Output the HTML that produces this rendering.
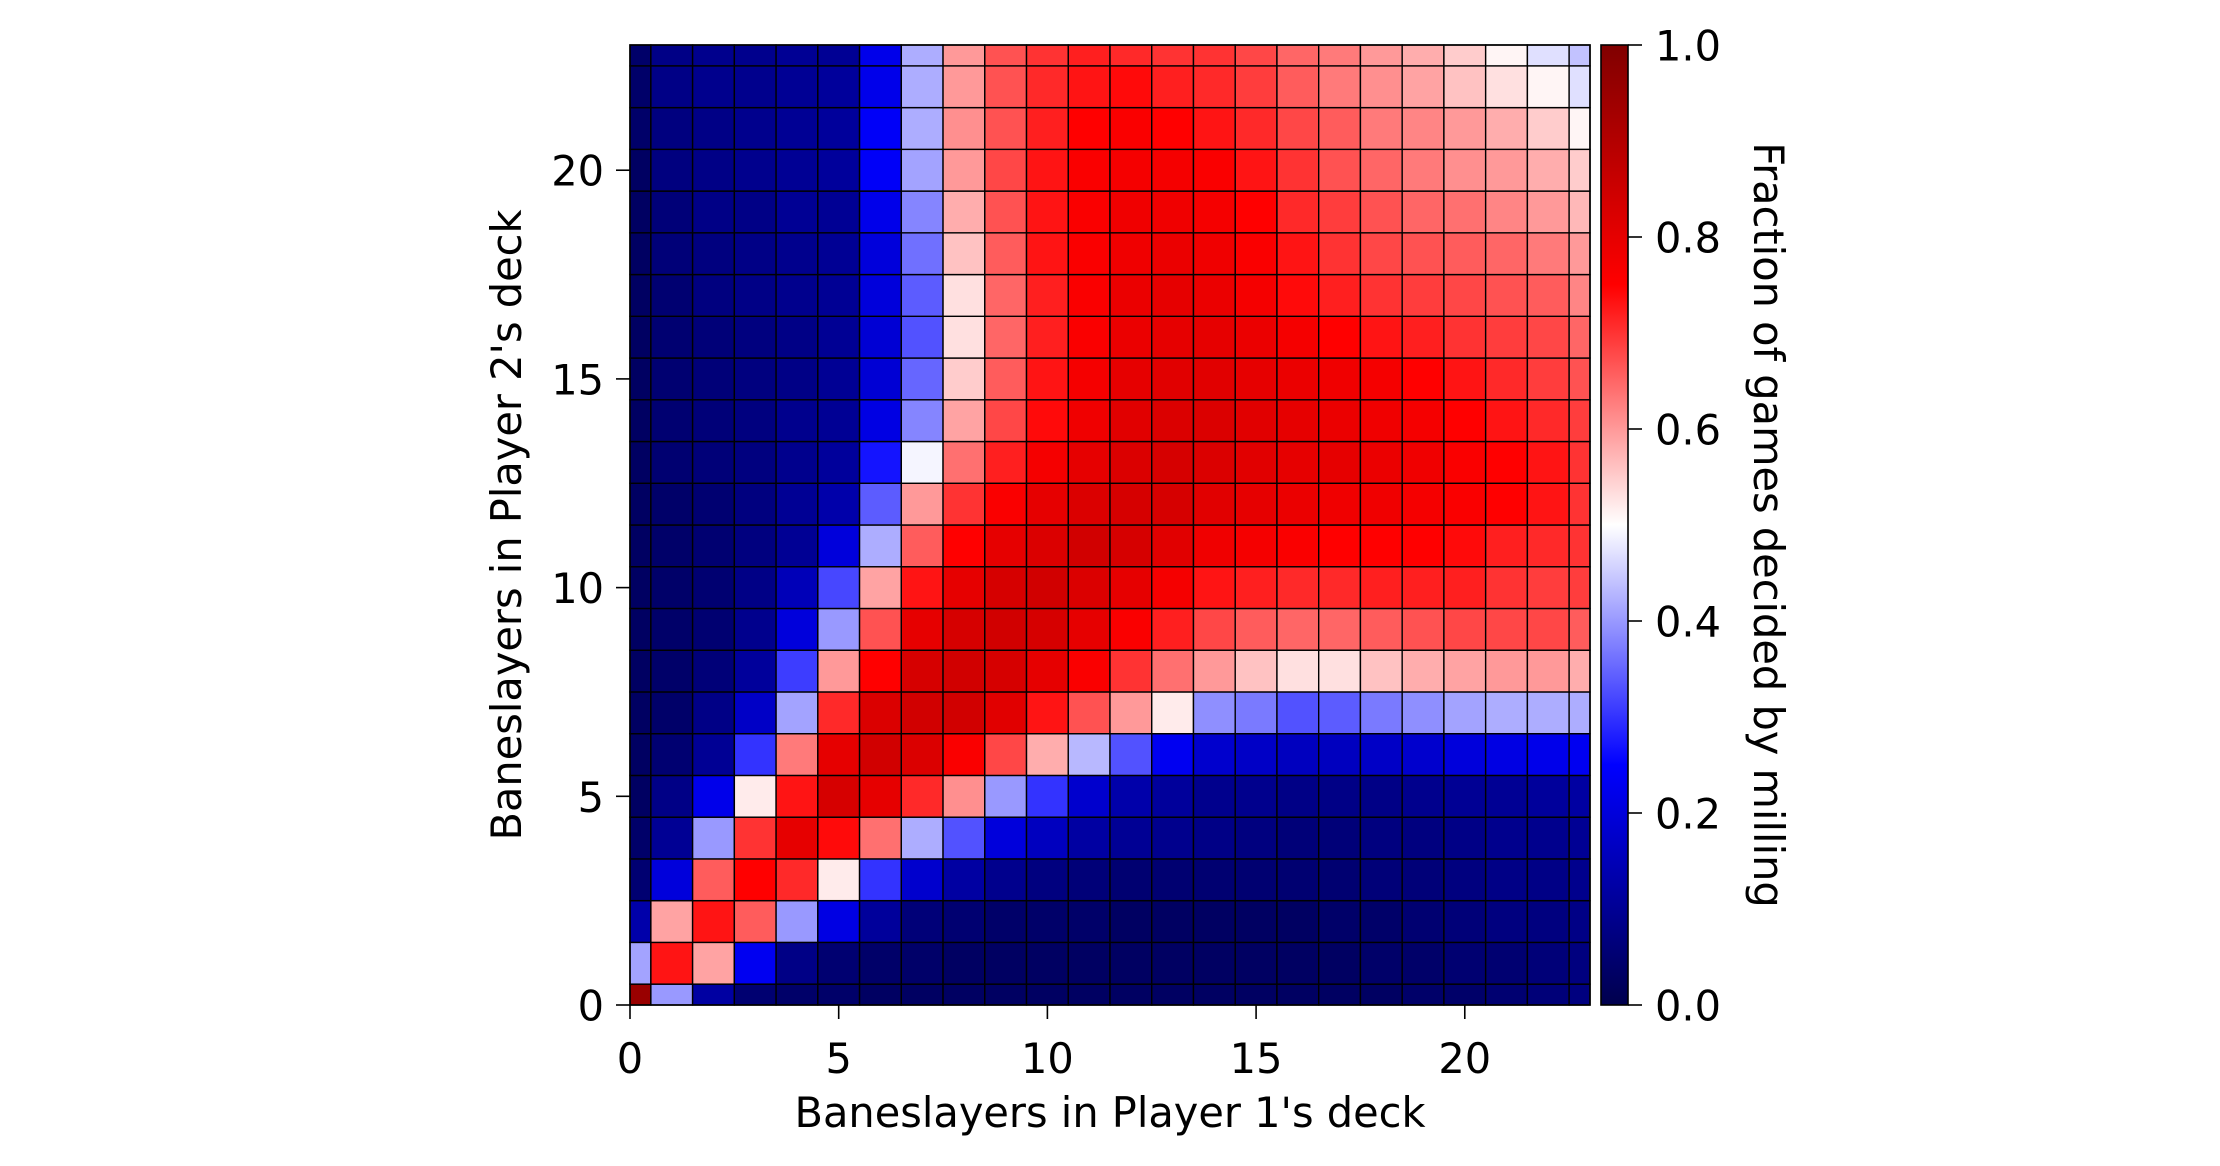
<!DOCTYPE html>
<html><head><meta charset="utf-8"><style>
html,body{margin:0;padding:0;background:#fff;}
svg{display:block;font-family:"DejaVu Sans","Liberation Sans",sans-serif;}
</style></head>
<body>
<svg id="chart" width="2220" height="1166" viewBox="0 0 2220 1166" xmlns="http://www.w3.org/2000/svg">
<defs>
<linearGradient id="seis" x1="0" y1="1" x2="0" y2="0">
<stop offset="0" stop-color="rgb(0,0,77)"/>
<stop offset="0.25" stop-color="rgb(0,0,255)"/>
<stop offset="0.5" stop-color="rgb(255,255,255)"/>
<stop offset="0.75" stop-color="rgb(255,0,0)"/>
<stop offset="1" stop-color="rgb(128,0,0)"/>
</linearGradient>
</defs>
<g id="cells"></g>
<rect x="630" y="45" width="960" height="960" fill="none" stroke="#000" stroke-width="1.6"/>
<g id="axes"></g>
<rect x="1601" y="45" width="27" height="960" fill="url(#seis)" stroke="#000" stroke-width="1.6"/>
<text x="1110" y="1127" font-size="41.5" text-anchor="middle">Baneslayers in Player 1's deck</text>
<text transform="translate(521,525) rotate(-90)" font-size="41.5" text-anchor="middle">Baneslayers in Player 2's deck</text>
<text transform="translate(1754,525) rotate(90)" font-size="41.5" text-anchor="middle">Fraction of games decided by milling</text>
</svg>
<script>
const xTicks = [0,5,10,15,20];
const yTicks = [0,5,10,15,20];
const cbTicks = [0.0,0.2,0.4,0.6,0.8,1.0];
// rows from y=0 (bottom) upward, columns x=0..23
const row0  = [0.95,0.4,0.12,0.05,0.04,0.04,0.03,0.03,0.03,0.03,0.03,0.03,0.03,0.03,0.03,0.03,0.03,0.03,0.03,0.04,0.04,0.05,0.06,0.07];
const row1  = [0.41,0.73,0.59,0.23,0.08,0.05,0.04,0.04,0.03,0.03,0.03,0.03,0.03,0.03,0.03,0.03,0.03,0.03,0.04,0.04,0.05,0.05,0.06,0.07];
const row2  = [0.13,0.59,0.73,0.66,0.4,0.21,0.11,0.06,0.05,0.04,0.04,0.04,0.03,0.03,0.03,0.03,0.03,0.04,0.04,0.05,0.06,0.07,0.07,0.08];
const row3  = [0.05,0.2,0.66,0.75,0.71,0.52,0.3,0.18,0.12,0.09,0.07,0.06,0.05,0.05,0.05,0.05,0.05,0.05,0.06,0.06,0.07,0.08,0.08,0.09];
const row4  = [0.04,0.1,0.4,0.7,0.8,0.74,0.64,0.42,0.33,0.2,0.16,0.12,0.1,0.09,0.08,0.07,0.06,0.06,0.07,0.07,0.08,0.09,0.09,0.1];
const row5  = [0.03,0.08,0.22,0.52,0.73,0.83,0.8,0.71,0.61,0.4,0.3,0.18,0.13,0.11,0.09,0.09,0.08,0.08,0.08,0.09,0.1,0.1,0.11,0.12];
const row6  = [0.03,0.05,0.1,0.3,0.63,0.8,0.84,0.82,0.76,0.68,0.58,0.43,0.33,0.23,0.18,0.17,0.16,0.16,0.17,0.18,0.2,0.21,0.22,0.23];
const row7  = [0.03,0.04,0.08,0.17,0.41,0.71,0.82,0.84,0.84,0.81,0.73,0.67,0.6,0.52,0.39,0.37,0.33,0.34,0.37,0.39,0.41,0.42,0.42,0.42];
const row8  = [0.03,0.04,0.06,0.11,0.31,0.6,0.75,0.83,0.84,0.83,0.8,0.76,0.7,0.64,0.6,0.56,0.53,0.53,0.56,0.58,0.59,0.6,0.6,0.58];
const row9  = [0.03,0.04,0.05,0.09,0.2,0.4,0.67,0.8,0.83,0.84,0.83,0.8,0.76,0.72,0.68,0.66,0.65,0.65,0.66,0.67,0.68,0.68,0.68,0.66];
const row10 = [0.03,0.04,0.05,0.08,0.15,0.32,0.59,0.73,0.8,0.83,0.84,0.82,0.8,0.77,0.73,0.72,0.71,0.71,0.72,0.72,0.72,0.7,0.69,0.69];
const row11 = [0.03,0.04,0.05,0.07,0.1,0.2,0.42,0.66,0.75,0.8,0.82,0.84,0.83,0.81,0.78,0.77,0.76,0.75,0.75,0.75,0.74,0.72,0.71,0.7];
const row12 = [0.03,0.04,0.05,0.07,0.1,0.13,0.34,0.6,0.7,0.76,0.8,0.82,0.83,0.83,0.81,0.8,0.79,0.78,0.78,0.77,0.76,0.75,0.73,0.7];
const row13 = [0.03,0.05,0.06,0.07,0.09,0.11,0.27,0.49,0.64,0.72,0.77,0.8,0.82,0.83,0.82,0.81,0.8,0.8,0.79,0.78,0.76,0.75,0.73,0.7];
const row14 = [0.03,0.05,0.06,0.07,0.09,0.1,0.21,0.38,0.59,0.68,0.74,0.78,0.81,0.82,0.82,0.81,0.8,0.79,0.78,0.77,0.75,0.73,0.71,0.69];
const row15 = [0.03,0.05,0.06,0.07,0.08,0.1,0.19,0.35,0.55,0.66,0.73,0.77,0.8,0.81,0.81,0.8,0.79,0.78,0.77,0.75,0.73,0.71,0.69,0.67];
const row16 = [0.03,0.05,0.06,0.07,0.08,0.1,0.19,0.33,0.53,0.65,0.72,0.76,0.79,0.8,0.8,0.79,0.77,0.75,0.73,0.72,0.7,0.69,0.68,0.65];
const row17 = [0.03,0.05,0.07,0.08,0.09,0.1,0.2,0.34,0.53,0.65,0.72,0.76,0.79,0.8,0.79,0.77,0.74,0.72,0.7,0.69,0.68,0.67,0.66,0.62];
const row18 = [0.03,0.06,0.07,0.08,0.09,0.1,0.2,0.36,0.56,0.66,0.73,0.76,0.78,0.79,0.78,0.76,0.73,0.7,0.68,0.67,0.66,0.65,0.63,0.6];
const row19 = [0.03,0.06,0.08,0.08,0.1,0.1,0.22,0.38,0.58,0.67,0.73,0.76,0.78,0.78,0.77,0.75,0.71,0.69,0.67,0.65,0.64,0.62,0.6,0.57];
const row20 = [0.03,0.07,0.08,0.09,0.1,0.11,0.24,0.41,0.6,0.68,0.73,0.76,0.77,0.77,0.76,0.73,0.7,0.67,0.65,0.63,0.61,0.6,0.58,0.55];
const row21 = [0.04,0.07,0.08,0.09,0.1,0.11,0.24,0.42,0.61,0.67,0.72,0.75,0.76,0.75,0.73,0.71,0.68,0.66,0.63,0.62,0.6,0.58,0.55,0.51];
const row22 = [0.04,0.08,0.09,0.09,0.1,0.11,0.22,0.42,0.6,0.67,0.71,0.73,0.74,0.72,0.71,0.69,0.66,0.63,0.61,0.59,0.56,0.53,0.51,0.47];
const row23 = [0.04,0.08,0.09,0.09,0.1,0.1,0.22,0.42,0.6,0.67,0.7,0.72,0.71,0.7,0.7,0.68,0.65,0.63,0.6,0.58,0.55,0.51,0.47,0.44];
const rows = [row0,row1,row2,row3,row4,row5,row6,row7,row8,row9,row10,row11,row12,row13,row14,row15,row16,row17,row18,row19,row20,row21,row22,row23];

const NS = "http://www.w3.org/2000/svg";
const X0 = 630, Y0 = 45, W = 960, H = 960, XMAX = 23, YMAX = 23;
function sx(v){ return X0 + v / XMAX * W; }
function sy(v){ return Y0 + H - v / YMAX * H; }
function cbY(v){ return Y0 + H - v * H; }
function seismic(v){
  v = Math.max(0, Math.min(1, v));
  const st = [[0,[0,0,77]],[0.25,[0,0,255]],[0.5,[255,255,255]],[0.75,[255,0,0]],[1,[128,0,0]]];
  for (let k = 0; k < st.length - 1; k++) {
    const a = st[k], b = st[k+1];
    if (v <= b[0]) {
      const t = (v - a[0]) / (b[0] - a[0]);
      const c = a[1].map((x, i) => Math.round(x + (b[1][i] - x) * t));
      return "rgb(" + c.join(",") + ")";
    }
  }
  return "rgb(128,0,0)";
}
const cells = document.getElementById("cells");
rows.forEach((row, j) => {
  row.forEach((val, i) => {
    const x1 = sx(Math.max(0, i - 0.5)), x2 = sx(Math.min(XMAX, i + 0.5));
    const y1 = sy(Math.min(YMAX, j + 0.5)), y2 = sy(Math.max(0, j - 0.5));
    const r = document.createElementNS(NS, "rect");
    r.setAttribute("x", x1); r.setAttribute("y", y1);
    r.setAttribute("width", x2 - x1); r.setAttribute("height", y2 - y1);
    r.setAttribute("fill", seismic(val));
    r.setAttribute("stroke", "#000"); r.setAttribute("stroke-width", "1.4");
    
    
    cells.appendChild(r);
  });
});
const axes = document.getElementById("axes");
function line(x1,y1,x2,y2){
  const l = document.createElementNS(NS, "line");
  l.setAttribute("x1",x1);l.setAttribute("y1",y1);l.setAttribute("x2",x2);l.setAttribute("y2",y2);
  l.setAttribute("stroke","#000");l.setAttribute("stroke-width","1.6");
  
  
  axes.appendChild(l);
}
function text(x,y,s,anchor,name){
  const t = document.createElementNS(NS, "text");
  t.setAttribute("x",x);t.setAttribute("y",y);t.setAttribute("font-size","41.5");
  t.setAttribute("text-anchor",anchor);t.textContent = s;
  
  
  axes.appendChild(t);
}
xTicks.forEach(v => { line(sx(v), Y0+H, sx(v), Y0+H+14); text(sx(v), 1073, String(v), "middle", "x-tick-label"); });
yTicks.forEach(v => { line(X0-14, sy(v), X0, sy(v)); text(X0-26, sy(v)+15.5, String(v), "end", "y-tick-label"); });
cbTicks.forEach(v => { line(1628, cbY(v), 1642, cbY(v)); text(1655, cbY(v)+15.5, v.toFixed(1), "start", "colorbar-tick-label"); });
</script>
</body></html>
